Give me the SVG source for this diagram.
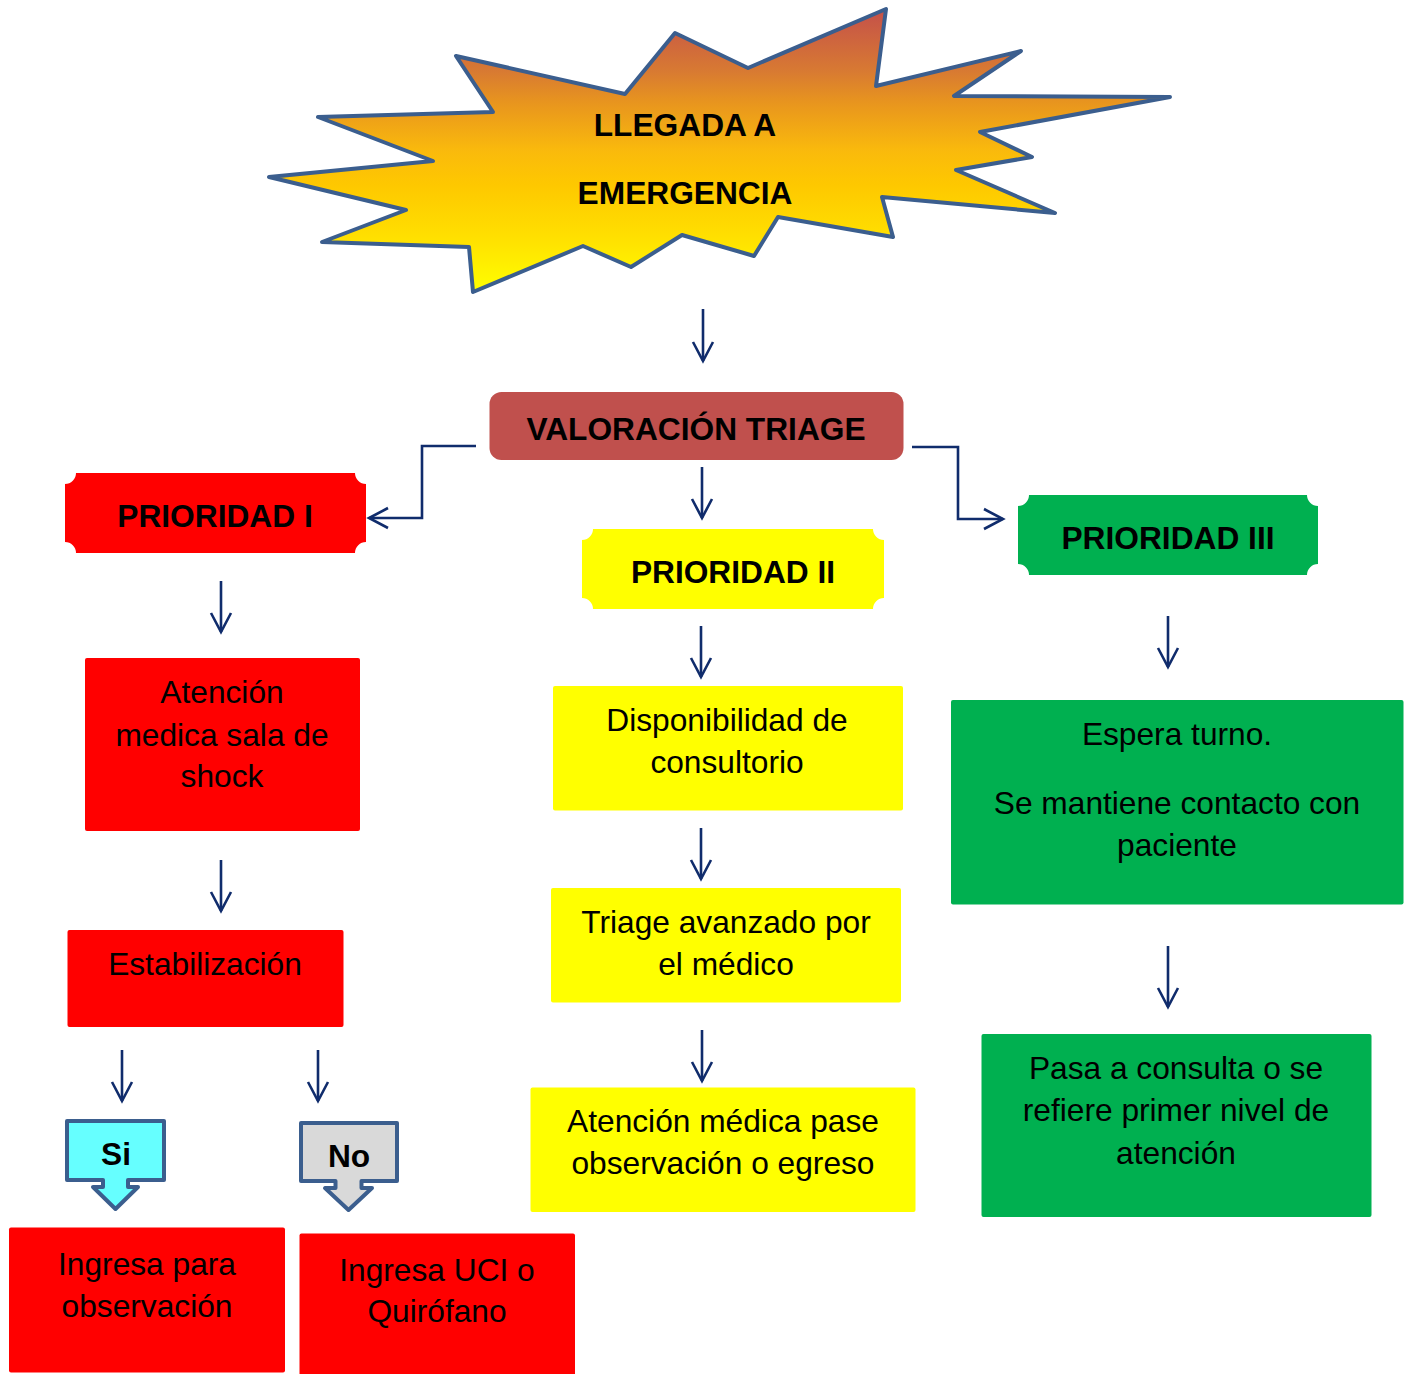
<svg xmlns="http://www.w3.org/2000/svg" width="1410" height="1374" viewBox="0 0 1410 1374">
<defs>
<linearGradient id="burst" gradientUnits="userSpaceOnUse" x1="0" y1="9" x2="0" y2="293">
<stop offset="0" stop-color="#C4504A"/>
<stop offset="0.22" stop-color="#D87A32"/>
<stop offset="0.33" stop-color="#E8951E"/>
<stop offset="0.5" stop-color="#FABA0C"/>
<stop offset="0.62" stop-color="#FEC800"/>
<stop offset="0.8" stop-color="#FFDF00"/>
<stop offset="1" stop-color="#FFFF00"/>
</linearGradient>
<marker id="arr" viewBox="0 0 24 24" markerWidth="24" markerHeight="24" refX="20" refY="12" orient="auto" markerUnits="userSpaceOnUse">
<path d="M1,2 L20,12 L1,22" fill="none" stroke="#102C6C" stroke-width="2.6"/>
</marker>
</defs>
<style>
text{font-family:"Liberation Sans",Arial,sans-serif;font-size:31.7px;fill:#000;text-anchor:middle}
.b{font-weight:bold}
.red{fill:#FF0000}
.yel{fill:#FFFF00}
.grn{fill:#00B050}
.conn{fill:none;stroke:#102C6C;stroke-width:2.6;marker-end:url(#arr)}
.call{stroke:#3B5E8E;stroke-width:4;stroke-linejoin:round}
</style>
<rect width="1410" height="1374" fill="#FFFFFF"/>

<g id="llegada">
<polygon points="456,56 625,94 675,33 748,68 886,9 876,86 1021,51 954,96 1170,97 980,132 1032,157 956,170 1055,213 882,197 893,237 778,217 754,256 682,235 631,267 583,246 473,292 469,247 322,242 406,210 269,177 433,161 318,117 493,112" fill="url(#burst)" stroke="#3B5E8E" stroke-width="4" stroke-linejoin="round"/>
<text class="b" x="685" y="136">LLEGADA A</text>
<text class="b" x="685" y="204">EMERGENCIA</text>
</g>

<g id="triage">
<rect x="489.5" y="392" width="414" height="68" rx="12" fill="#C0504D"/>
<text class="b" x="696" y="440">VALORACIÓN TRIAGE</text>
</g>

<g id="prioridad1">
<path class="red" d="M76,473 H355 A11,11 0 0 0 366,484 V542 A11,11 0 0 0 355,553 H76 A11,11 0 0 0 65,542 V484 A11,11 0 0 0 76,473 Z"/>
<text class="b" x="215" y="527">PRIORIDAD I</text>
</g>

<g id="prioridad2">
<path class="yel" d="M593,529 H873 A11,11 0 0 0 884,540 V598 A11,11 0 0 0 873,609 H593 A11,11 0 0 0 582,598 V540 A11,11 0 0 0 593,529 Z"/>
<text class="b" x="733" y="583">PRIORIDAD II</text>
</g>

<g id="prioridad3">
<path class="grn" d="M1029,495 H1307 A11,11 0 0 0 1318,506 V564 A11,11 0 0 0 1307,575 H1029 A11,11 0 0 0 1018,564 V506 A11,11 0 0 0 1029,495 Z"/>
<text class="b" x="1168" y="549">PRIORIDAD III</text>
</g>

<g id="atencion-shock">
<rect class="red" x="85" y="658" width="275" height="173" rx="2"/>
<text x="222" y="703">Atención</text>
<text x="222" y="746">medica sala de</text>
<text x="222" y="787">shock</text>
</g>

<g id="estabilizacion">
<rect class="red" x="67.5" y="930" width="276" height="97" rx="2"/>
<text x="205" y="975">Estabilización</text>
</g>

<g id="si">
<path class="call" fill="#66FFFF" d="M67,1121 H164 V1180 H128 V1187 H138 L115.5,1209 L93,1187 H103 V1180 H67 Z"/>
<text class="b" x="116" y="1165">Si</text>
</g>

<g id="no">
<path class="call" fill="#D9D9D9" d="M301,1123 H397 V1181 H361.5 V1188 H372 L348.5,1210 L325,1188 H335.5 V1181 H301 Z"/>
<text class="b" x="349" y="1167">No</text>
</g>

<g id="ingresa-obs">
<rect class="red" x="9" y="1227.5" width="276" height="145" rx="2"/>
<text x="147" y="1275">Ingresa para</text>
<text x="147" y="1317">observación</text>
</g>

<g id="ingresa-uci">
<rect class="red" x="299.5" y="1233.5" width="275.5" height="145" rx="2"/>
<text x="437" y="1281">Ingresa UCI o</text>
<text x="437" y="1322">Quirófano</text>
</g>

<g id="disponibilidad">
<rect class="yel" x="553" y="686" width="350" height="124.5" rx="2"/>
<text x="727" y="731">Disponibilidad de</text>
<text x="727" y="773">consultorio</text>
</g>

<g id="triage-avanzado">
<rect class="yel" x="551" y="888" width="350" height="114.5" rx="2"/>
<text x="726" y="933">Triage avanzado por</text>
<text x="726" y="975">el médico</text>
</g>

<g id="atencion-medica">
<rect class="yel" x="530.5" y="1087.5" width="385" height="124.5" rx="2"/>
<text x="723" y="1132">Atención médica pase</text>
<text x="723" y="1174">observación o egreso</text>
</g>

<g id="espera">
<rect class="grn" x="951" y="700" width="452.5" height="204.5" rx="2"/>
<text x="1177" y="745">Espera turno.</text>
<text x="1177" y="814">Se mantiene contacto con</text>
<text x="1177" y="856">paciente</text>
</g>

<g id="pasa-consulta">
<rect class="grn" x="981.5" y="1034" width="390" height="183" rx="2"/>
<text x="1176" y="1079">Pasa a consulta o se</text>
<text x="1176" y="1121">refiere primer nivel de</text>
<text x="1176" y="1164">atención</text>
</g>

<g id="connectors">
<path class="conn" d="M703,309 V361"/>
<path class="conn" d="M476,446 H422 V518 H369"/>
<path class="conn" d="M702,467 V518"/>
<path class="conn" d="M912,447 H958 V519 H1003"/>
<path class="conn" d="M221,581 V632"/>
<path class="conn" d="M221,860 V911"/>
<path class="conn" d="M122,1050 V1101"/>
<path class="conn" d="M318,1050 V1101"/>
<path class="conn" d="M701,626 V677"/>
<path class="conn" d="M701,828 V879"/>
<path class="conn" d="M702,1030 V1081"/>
<path class="conn" d="M1168,616 V667"/>
<path class="conn" d="M1168,946 V1007"/>
</g>
</svg>
